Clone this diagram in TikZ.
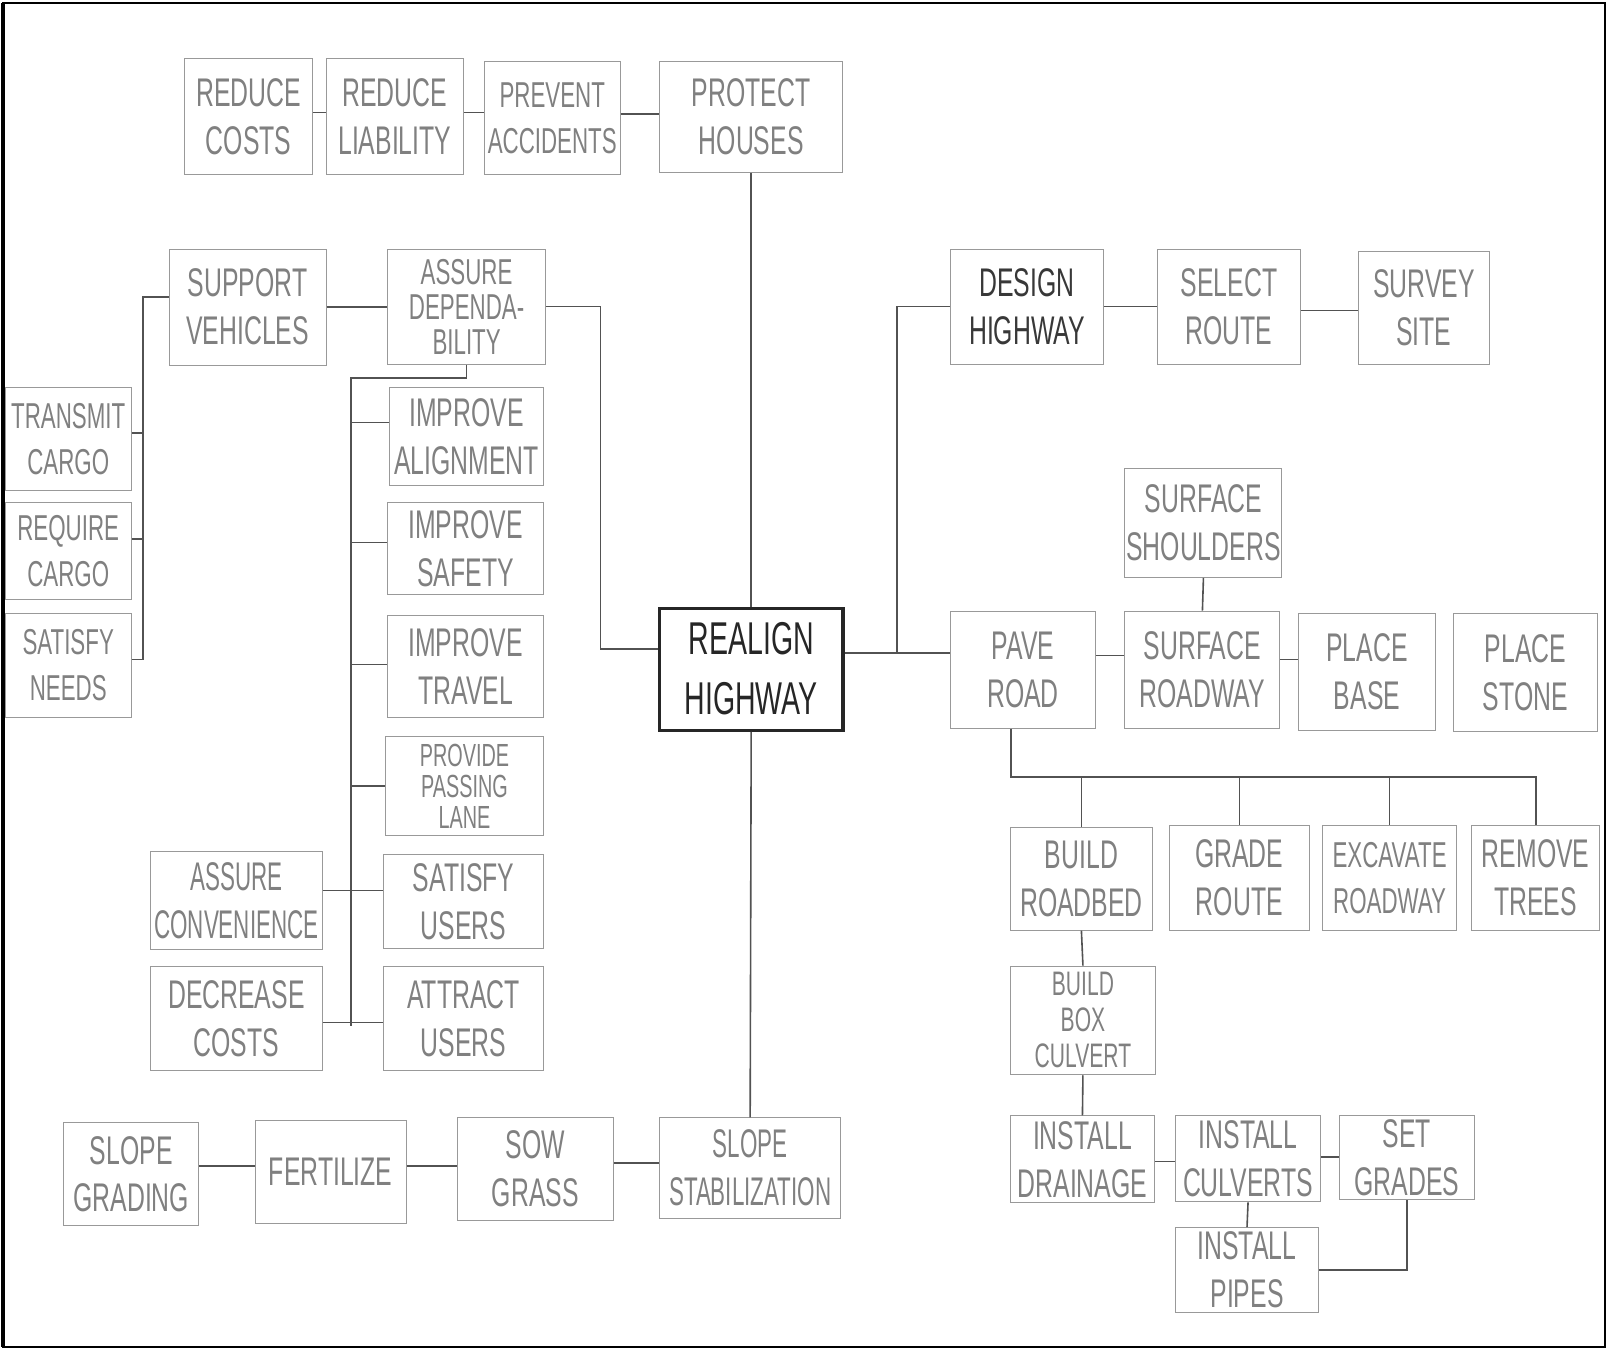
\documentclass[tikz,border=0pt]{standalone}
\usepackage{fontspec}
\setmainfont{Liberation Sans}[FakeStretch=0.62]
\newfontfamily\narrowfont{Liberation Sans}[FakeStretch=0.56]

\def\px{0.5128pt}
\tikzset{
    box/.style={draw=black!40, line width=0.5pt, inner sep=0pt, align=center,
      text=black!50, font=\fontsize{20}{24}\selectfont},
    mainbox/.style={box, draw=black!85, line width=1.6pt, text=black!85,
      font=\fontsize{23}{30}\selectfont},
    three/.style={font=\fontsize{18}{17.5}\selectfont},
    smaller/.style={font=\fontsize{18}{23}\selectfont},
    tight/.style={font=\narrowfont\fontsize{20}{24}\selectfont},
    link/.style={draw=black!68, line width=0.8pt}
}

\begin{document}
\begin{tikzpicture}[x=\px, y=-\px]
    \useasboundingbox (0,0) rectangle (1568,1316);

    % Sheet border
    \draw[line width=1pt] (3,3) rectangle (1565,1313);
    \draw[line width=2pt] (3,3) -- (3,1313);

    % Why branch, top row
    \node[box, minimum width=125*\px, minimum height=113*\px] (redcost) at (242.5,113.5) {REDUCE\\COSTS};
    \node[box, minimum width=134*\px, minimum height=113*\px] (redliab) at (385,113.5) {REDUCE\\LIABILITY};
    \node[box, smaller, minimum width=133*\px, minimum height=110*\px] (prevent) at (538.5,115) {PREVENT\\ACCIDENTS};
    \node[box, minimum width=179*\px, minimum height=108*\px] (protect) at (732.5,114) {PROTECT\\HOUSES};

    % Why branch, left side
    \node[box, minimum width=153*\px, minimum height=113*\px] (support) at (241.5,299.5) {SUPPORT\\VEHICLES};
    \node[box, three, minimum width=154*\px, minimum height=112*\px] (assure) at (455,299) {ASSURE\\DEPENDA-\\BILITY};
    \node[box, smaller, minimum width=123*\px, minimum height=100*\px] (transmit) at (66.5,428) {TRANSMIT\\CARGO};
    \node[box, smaller, minimum width=123*\px, minimum height=95*\px] (require) at (66.5,537.5) {REQUIRE\\CARGO};
    \node[box, smaller, minimum width=123*\px, minimum height=102*\px] (satneeds) at (66.5,649) {SATISFY\\NEEDS};

    \node[box, minimum width=150*\px, minimum height=95*\px] (imalign) at (455,425.5) {IMPROVE\\ALIGNMENT};
    \node[box, minimum width=152*\px, minimum height=90*\px] (imsafety) at (454,535) {IMPROVE\\SAFETY};
    \node[box, minimum width=152*\px, minimum height=100*\px] (imtravel) at (454,650) {IMPROVE\\TRAVEL};
    \node[box, minimum width=154*\px, minimum height=97*\px, font=\fontsize{16}{15.5}\selectfont] (passing) at (453,766.5) {PROVIDE\\PASSING\\LANE};
    \node[box, minimum width=156*\px, minimum height=92*\px] (satusers) at (452,879) {SATISFY\\USERS};
    \node[box, minimum width=156*\px, minimum height=102*\px] (attract) at (452,993) {ATTRACT\\USERS};
    \node[box, tight, minimum width=167*\px, minimum height=96*\px] (conv) at (230.5,878) {ASSURE\\CONVENIENCE};
    \node[box, minimum width=167*\px, minimum height=102*\px] (decr) at (230.5,993) {DECREASE\\COSTS};

    % Basic function
    \node[mainbox, minimum width=179*\px, minimum height=119*\px] (realign) at (732.5,652.5) {REALIGN\\HIGHWAY};

    % How branch
    \node[box, text=black!78, minimum width=149*\px, minimum height=112*\px] (design) at (1001.5,299) {DESIGN\\HIGHWAY};
    \node[box, minimum width=139*\px, minimum height=112*\px] (select) at (1198.5,299) {SELECT\\ROUTE};
    \node[box, minimum width=127*\px, minimum height=110*\px] (survey) at (1388.5,300) {SURVEY\\SITE};
    \node[box, minimum width=153*\px, minimum height=106*\px] (shoulders) at (1173.5,510) {SURFACE\\SHOULDERS};
    \node[box, minimum width=141*\px, minimum height=114*\px] (pave) at (997.5,653) {PAVE\\ROAD};
    \node[box, minimum width=151*\px, minimum height=114*\px] (surfroad) at (1172.5,653) {SURFACE\\ROADWAY};
    \node[box, minimum width=134*\px, minimum height=114*\px] (placebase) at (1333,655) {PLACE\\BASE};
    \node[box, minimum width=141*\px, minimum height=115*\px] (placestone) at (1487.5,655.5) {PLACE\\STONE};

    \node[box, minimum width=139*\px, minimum height=100*\px] (roadbed) at (1054.5,857) {BUILD\\ROADBED};
    \node[box, minimum width=137*\px, minimum height=102*\px] (grade) at (1208.5,856) {GRADE\\ROUTE};
    \node[box, smaller, minimum width=130*\px, minimum height=102*\px] (excavate) at (1355,856) {EXCAVATE\\ROADWAY};
    \node[box, minimum width=125*\px, minimum height=102*\px] (trees) at (1497.5,856) {REMOVE\\TREES};
    \node[box, font=\fontsize{17}{18}\selectfont, minimum width=142*\px, minimum height=106*\px] (boxculv) at (1056,995) {BUILD\\BOX\\CULVERT};
    \node[box, minimum width=141*\px, minimum height=85*\px] (drainage) at (1055.5,1130.5) {INSTALL\\DRAINAGE};
    \node[box, minimum width=142*\px, minimum height=84*\px] (culverts) at (1217,1130) {INSTALL\\CULVERTS};
    \node[box, minimum width=132*\px, minimum height=82*\px] (setgrades) at (1372,1129) {SET\\GRADES};
    \node[box, minimum width=140*\px, minimum height=83*\px] (pipes) at (1216,1238.5) {INSTALL\\PIPES};

    % When branch, bottom row
    \node[box, minimum width=132*\px, minimum height=100*\px] (grading) at (128,1145) {SLOPE\\GRADING};
    \node[box, minimum width=147*\px, minimum height=100*\px] (fert) at (322.5,1143) {FERTILIZE};
    \node[box, minimum width=152*\px, minimum height=100*\px] (sow) at (522,1140) {SOW\\GRASS};
    \node[box, tight, minimum width=177*\px, minimum height=98*\px] (slopestab) at (731.5,1139) {SLOPE\\STABILIZATION};

    % Side by side links
    \foreach \a/\b/\s in {redcost/redliab/2pt, redliab/prevent/2pt, prevent/protect/2pt,
        support/assure/0pt, design/select/0pt, select/survey/-2pt,
        pave/surfroad/7pt, surfroad/placebase/5pt,
        drainage/culverts/-1pt, culverts/setgrades/1pt,
        grading/fert/4pt, fert/sow/3pt, sow/slopestab/3pt}
        \draw[link] ([yshift=\s]\a.east) -- ([yshift=\s]\a.east -| \b.west);

    % Trunk
    \draw[link] (protect.south) -- (realign.north);
    \draw[link] (realign.south) -- (slopestab.north);

    % Left trees
    \draw[link] (assure.east) -- ++(53,0) |- ([yshift=10pt]realign.west);
    \draw[link] ([yshift=5pt]support.west) -- ++(-25,0) coordinate (vbus)
        |- ([yshift=3pt]satneeds.east);
    \draw[link] ([yshift=3pt]transmit.east) -- ([yshift=3pt]transmit.east -| vbus);
    \draw[link] ([yshift=6pt]require.east) -- ([yshift=6pt]require.east -| vbus);

    \draw[link] (assure.south) -- ++(0,13) coordinate (dtop) -| ++(-113,632) coordinate (dbus);
    \foreach \n/\s in {imalign/7pt, imsafety/3pt, imtravel/1pt, passing/0pt}
        \draw[link] ([yshift=\s]\n.west -| dbus) -- ([yshift=\s]\n.west);
    \draw[link] ([yshift=5pt]conv.east) -- ([yshift=5pt]conv.east -| satusers.west);
    \draw[link] ([yshift=-2pt]decr.east) -- ([yshift=-2pt]decr.east -| attract.west);

    % Right trees
    \draw[link] ([yshift=8pt]realign.east) -- ++(51,0) coordinate (rjoin)
        -- ([yshift=8pt]realign.east -| pave.west);
    \draw[link] (rjoin) |- (design.west);
    \draw[link] (shoulders.south) -- (surfroad.north);

    \draw[link] ([xshift=-6pt]pave.south) -- ++(0,47) coordinate (pbus) -| (trees.north);
    \foreach \n in {roadbed,grade,excavate}
        \draw[link] (\n.north |- pbus) -- (\n.north);
    \draw[link] (roadbed.south) -- (boxculv.north);
    \draw[link] (boxculv.south) -- (drainage.north);
    \draw[link] (culverts.south) -- (pipes.north);
    \draw[link] (setgrades.south) |- (pipes.east);
\end{tikzpicture}
\end{document}
